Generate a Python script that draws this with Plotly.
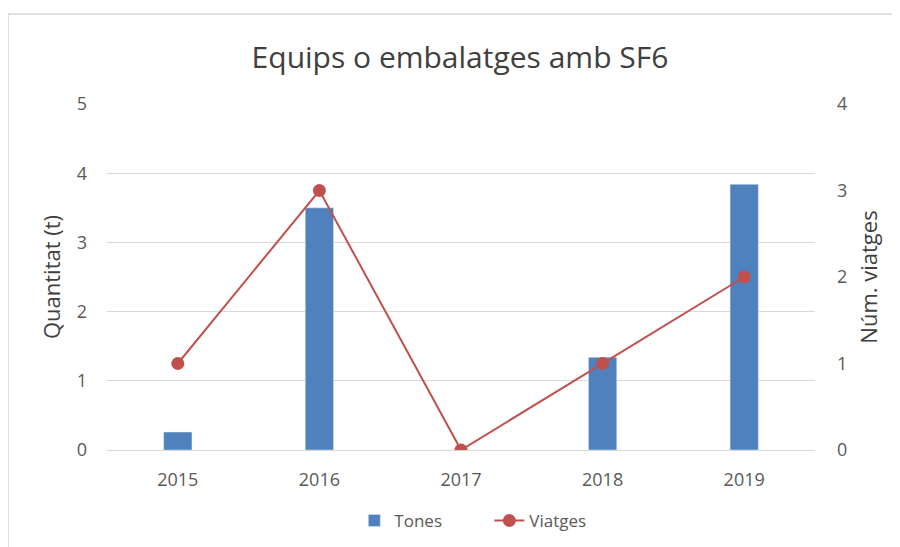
import plotly.graph_objects as go

years = ["2015", "2016", "2017", "2018", "2019"]
tones = [0.26, 3.5, 0.0, 1.34, 3.84]
viatges = [1, 3, 0, 1, 2]

font = "Open Sans, Noto Sans, sans-serif"
txt = "#595959"

fig = go.Figure()
fig.add_trace(go.Bar(x=years, y=tones, name="Tones", marker=dict(color="#4f81bd"),
                     width=0.2, yaxis="y"))
fig.add_trace(go.Scatter(x=years, y=viatges, name="Viatges", mode="lines+markers",
                         line=dict(color="#c0504d", width=2),
                         marker=dict(color="#c0504d", size=13), yaxis="y2"))

border = dict(color="#d9d9d9", width=1.5)

fig.update_layout(
    width=892, height=539,
    margin=dict(l=99, r=85, t=96, b=97, autoexpand=False),
    paper_bgcolor="white", plot_bgcolor="white",
    font=dict(family=font, color=txt, size=18),
    title=dict(text="Equips o embalatges amb SF6", x=452/892, xanchor="center",
               y=1 - 49/539, yref="container", yanchor="middle",
               font=dict(size=30, color="#404040", family=font)),
    xaxis=dict(showgrid=False, showline=True, linecolor="#d9d9d9", linewidth=1,
               ticks="", automargin=False, ticklabelstandoff=13,
               tickfont=dict(size=18, color=txt)),
    yaxis=dict(range=[0, 5], dtick=1, showgrid=True, gridcolor="#d9d9d9",
               zeroline=False, showline=False, ticks="", automargin=False,
               ticklabelstandoff=19,
               title=dict(text="Quantitat (t)", font=dict(size=22, color="#404040"), standoff=10),
               tickfont=dict(size=18, color=txt)),
    yaxis2=dict(range=[0, 4], dtick=1, overlaying="y", side="right", showgrid=False,
                zeroline=False, showline=False, ticks="", automargin=False,
                ticklabelstandoff=21,
                title=dict(text="Núm. viatges", font=dict(size=22, color="#404040"), standoff=15),
                tickfont=dict(size=18, color=txt)),
    legend=dict(orientation="h", x=0.54, xanchor="center", y=-0.205, yanchor="middle",
                entrywidth=90, entrywidthmode="pixels",
                font=dict(size=17, color=txt), bgcolor="rgba(0,0,0,0)"),
    shapes=[
        dict(type="line", xref="paper", yref="paper",
             x0=-0.1398, x1=1.3, y0=1.260, y1=1.260, line=border, layer="below"),
        dict(type="line", xref="paper", yref="paper",
             x0=-0.1398, x1=-0.1398, y0=-0.5, y1=1.260, line=border, layer="below"),
    ],
    showlegend=True,
)

fig.write_html("out.html")
